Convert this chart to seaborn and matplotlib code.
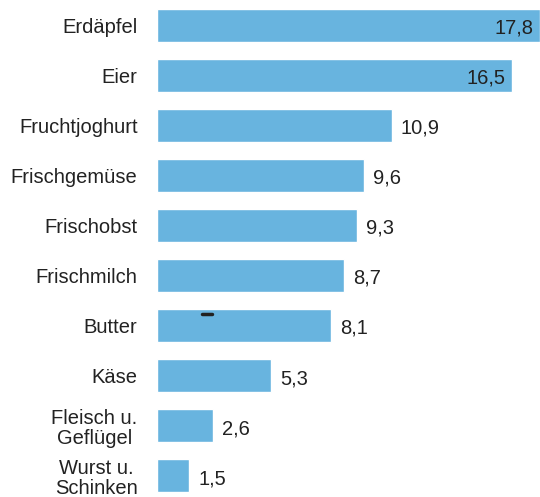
import pandas as pd
import matplotlib.pyplot as plt
import matplotlib.lines as mlines
import seaborn as sns

# Daten
kategorien = ["Erdäpfel", "Eier", "Fruchtjoghurt", "Frischgemüse", "Frischobst",
              "Frischmilch", "Butter", "Käse", "Fleisch u.\nGeflügel", "Wurst u.\nSchinken"]
werte = [17.8, 16.5, 10.9, 9.6, 9.3, 8.7, 8.1, 5.3, 2.6, 1.5]

df = pd.DataFrame({"Kategorie": kategorien, "Wert": werte})

sns.set_style("white")
plt.rcParams['font.family'] = ['Liberation Sans', 'DejaVu Sans']

fig = plt.figure(figsize=(5.4, 4.97), dpi=100)
ax = fig.add_axes([157 / 540, 0, 383 / 540, 1])

sns.barplot(data=df, x="Wert", y="Kategorie", color="#68b4df", width=0.66,
            saturation=1, ax=ax, orient="h")

ax.set_xlim(0, 17.8)
ax.set_ylim(9.42, -0.5)
ax.set_xlabel("")
ax.set_ylabel("")
ax.set_xticks([])
ax.tick_params(axis="y", length=0, pad=14, labelsize=14.5, labelcolor="#222222")
for lbl in ax.get_yticklabels():
    lbl.set_multialignment("center")
    lbl.set_linespacing(1.05)
sns.despine(ax=ax, left=True, bottom=True, top=True, right=True)

# Wertbeschriftungen
for i, v in enumerate(werte):
    txt = f"{v:.1f}".replace(".", ",")
    if v > 15:
        ax.annotate(txt, (v, i), xytext=(-5, -2), textcoords="offset points",
                    ha="right", va="center", fontsize=14.5, color="#222222")
    else:
        ax.annotate(txt, (v, i), xytext=(6.5, -2), textcoords="offset points",
                    ha="left", va="center", fontsize=14.5, color="#222222")

# kleiner Strich über Butter (wie im Original)
fig.add_artist(mlines.Line2D([202 / 540, 212 / 540], [1 - 314 / 497, 1 - 314 / 497],
                             color="#222222", linewidth=2.5))

plt.savefig("out.png", dpi=100)
plt.close()
